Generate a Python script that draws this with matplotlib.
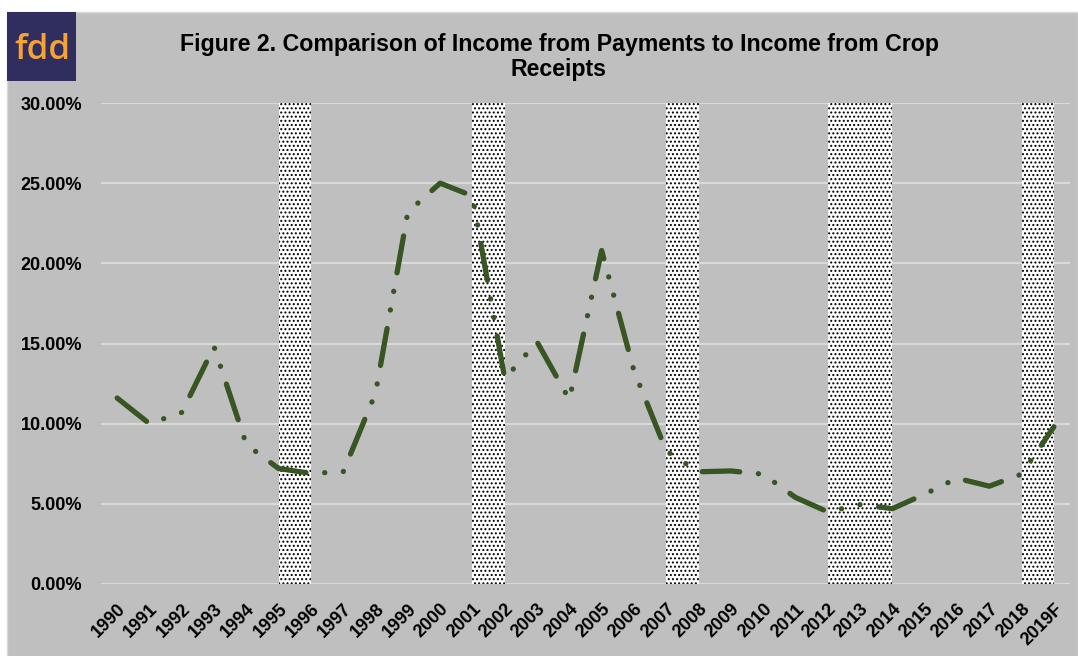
#Payments vs crop receipts, farmdoc style chart
import numpy as np
import matplotlib
matplotlib.use("Agg")
import matplotlib.pyplot as plt
from matplotlib.patches import Rectangle
from matplotlib.ticker import PercentFormatter

years = ["1990", "1991", "1992", "1993", "1994", "1995", "1996", "1997", "1998", "1999",
         "2000", "2001", "2002", "2003", "2004", "2005", "2006", "2007", "2008", "2009",
         "2010", "2011", "2012", "2013", "2014", "2015", "2016", "2017", "2018", "2019F"]
# payments as % of crop receipts
ratio = [11.6, 10.0, 10.7, 14.8, 8.7, 7.2, 6.9, 7.0, 11.9, 23.2,
         25.0, 24.2, 12.8, 15.1, 11.5, 20.8, 13.3, 8.3, 7.0, 7.05,
         6.85, 5.4, 4.5, 4.95, 4.7, 5.6, 6.6, 6.1, 6.85, 9.8]
# shaded periods (start year, end year)
bands = [("1995", "1996"), ("2001", "2002"), ("2007", "2008"), ("2012", "2014"), ("2018", "2019F")]

W, H = 1078, 656
plt.rcParams['font.family'] = ['Liberation Sans', 'DejaVu Sans']
plt.rcParams['lines.scale_dashes'] = False
plt.rcParams['hatch.linewidth'] = 0.95
plt.rcParams['hatch.color'] = 'black'

fig = plt.figure(figsize=(W / 100, H / 100), dpi=100)
fig.patch.set_facecolor('white')
fig.add_artist(Rectangle((7 / W, -0.01), (W - 7) / W, (H - 12) / H + 0.01, transform=fig.transFigure,
                         facecolor='#BFBFBF', edgecolor='#D9D9D9', lw=1, zorder=-10))

# logo
fig.add_artist(Rectangle((7 / W, 1 - 81 / H), 69 / W, 69 / H, transform=fig.transFigure,
                         facecolor='#2F2E5E', edgecolor='none', zorder=-5))
fig.text(42 / W, 1 - 50 / H, "fdd", color='#F7A234', fontsize=25, ha='center', va='center',
         family=['Open Sans', 'DejaVu Sans'], fontweight='semibold')

fig.text(559 / W, 1 - 57 / H, "Figure 2. Comparison of Income from Payments to Income from Crop\nReceipts",
         ha='center', va='center', fontsize=16.7, fontweight='bold', linespacing=1.1)

ax = fig.add_axes([101 / W, 1 - 584 / H, 969 / W, 481 / H])
ax.set_facecolor('#BFBFBF')
x = np.arange(len(years))

for a, b in bands:
    ax.axvspan(years.index(a), years.index(b), ymin=0, ymax=1, facecolor='white',
               edgecolor='black', hatch='....', lw=0, zorder=1)

ax.plot(x, ratio, color='#375623', lw=3.8, ls=(0, (27, 13.5, 0.1, 13.5, 0.1, 13.5)),
        dash_capstyle='round', solid_capstyle='round', zorder=3)

ax.set_xlim(-0.5, len(years) - 0.5)
ax.set_ylim(0, 30)
ax.set_yticks(np.arange(0, 30.1, 5))
ax.yaxis.set_major_formatter(PercentFormatter(xmax=100, decimals=2))
ax.yaxis.grid(True, color='#D9D9D9', lw=1.6, zorder=0)
ax.set_axisbelow(True)
for s in ax.spines.values():
    s.set_visible(False)

ax.set_xticks(x)
ax.set_xticklabels(years, rotation=45, ha='right', rotation_mode='anchor', fontsize=13, fontweight='bold')
ax.tick_params(axis='x', length=0, pad=12)
ax.tick_params(axis='y', length=0, pad=13.5, labelsize=13)
for t in ax.get_yticklabels():
    t.set_fontweight('bold')

fig.savefig("out.png", dpi=100)
